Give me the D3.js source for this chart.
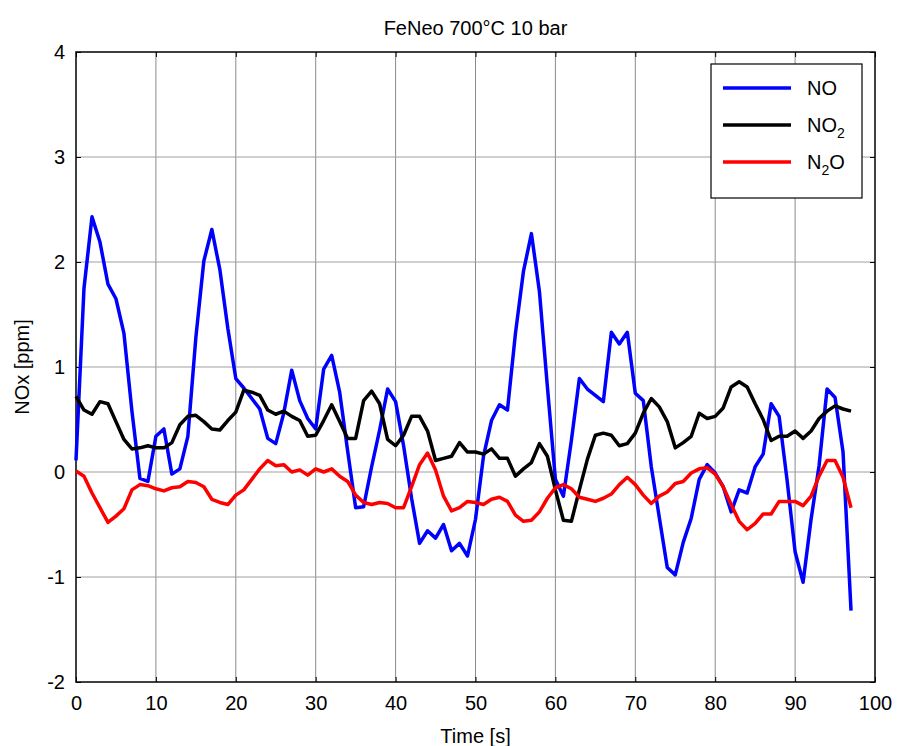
<!DOCTYPE html>
<html>
<head>
<meta charset="utf-8">
<script src="https://cdn.jsdelivr.net/npm/d3@7"></script>
<style>
  body { margin: 0; background: #fff; }
  text { font-family: "Liberation Sans", Arial, sans-serif; fill: #000; }
</style>
</head>
<body>
<svg id="chart" width="898" height="746"></svg>
<script>
// time in seconds, one sample per second
var time = d3.range(0, 98);

var no = [0.11, 1.75, 2.43, 2.19, 1.79, 1.65, 1.32, 0.58, -0.06, -0.09,
  0.34, 0.41, -0.02, 0.03, 0.34, 1.28, 2.01, 2.31, 1.93, 1.37,
  0.89, 0.80, 0.70, 0.60, 0.32, 0.27, 0.56, 0.97, 0.68, 0.51,
  0.41, 0.98, 1.11, 0.76, 0.20, -0.34, -0.33, 0.05, 0.40, 0.79,
  0.67, 0.25, -0.25, -0.68, -0.56, -0.63, -0.50, -0.75, -0.68, -0.80,
  -0.45, 0.15, 0.49, 0.64, 0.59, 1.32, 1.91, 2.27, 1.72, 0.81,
  -0.07, -0.23, 0.30, 0.89, 0.79, 0.73, 0.67, 1.33, 1.22, 1.33,
  0.75, 0.68, 0.05, -0.43, -0.91, -0.98, -0.67, -0.44, -0.07, 0.07,
  -0.01, -0.14, -0.38, -0.17, -0.20, 0.05, 0.17, 0.65, 0.53, -0.08,
  -0.76, -1.05, -0.45, 0.06, 0.79, 0.71, 0.19, -1.32];

var no2 = [0.72, 0.59, 0.55, 0.67, 0.65, 0.48, 0.31, 0.22, 0.23, 0.25,
  0.23, 0.23, 0.28, 0.45, 0.53, 0.54, 0.48, 0.41, 0.40, 0.49,
  0.57, 0.78, 0.76, 0.73, 0.59, 0.55, 0.58, 0.53, 0.49, 0.34,
  0.35, 0.49, 0.64, 0.48, 0.32, 0.32, 0.68, 0.77, 0.65, 0.31,
  0.25, 0.35, 0.53, 0.53, 0.39, 0.11, 0.13, 0.15, 0.28, 0.19,
  0.19, 0.17, 0.22, 0.13, 0.13, -0.04, 0.03, 0.09, 0.27, 0.15,
  -0.17, -0.46, -0.47, -0.17, 0.12, 0.35, 0.37, 0.35, 0.25, 0.27,
  0.37, 0.56, 0.70, 0.62, 0.48, 0.23, 0.28, 0.34, 0.56, 0.51,
  0.53, 0.61, 0.81, 0.86, 0.81, 0.65, 0.50, 0.30, 0.34, 0.34,
  0.39, 0.32, 0.39, 0.51, 0.58, 0.63, 0.60, 0.58];

var n2o = [0.01, -0.04, -0.20, -0.34, -0.48, -0.42, -0.35, -0.17, -0.12, -0.13,
  -0.16, -0.18, -0.15, -0.14, -0.09, -0.10, -0.14, -0.26, -0.29, -0.31,
  -0.22, -0.17, -0.07, 0.03, 0.11, 0.06, 0.07, 0.00, 0.02, -0.03,
  0.03, 0.00, 0.03, -0.04, -0.09, -0.22, -0.29, -0.31, -0.29, -0.30,
  -0.34, -0.34, -0.14, 0.07, 0.18, 0.02, -0.23, -0.37, -0.34, -0.28,
  -0.29, -0.31, -0.26, -0.24, -0.28, -0.41, -0.47, -0.46, -0.38, -0.25,
  -0.15, -0.12, -0.16, -0.24, -0.26, -0.28, -0.25, -0.21, -0.12, -0.05,
  -0.12, -0.22, -0.30, -0.23, -0.19, -0.11, -0.09, -0.01, 0.03, 0.04,
  -0.02, -0.14, -0.31, -0.47, -0.55, -0.49, -0.40, -0.40, -0.28, -0.28,
  -0.28, -0.32, -0.23, -0.04, 0.11, 0.11, -0.05, -0.34];

var xTicks = [0, 10, 20, 30, 40, 50, 60, 70, 80, 90, 100];
var yTicks = [-2, -1, 0, 1, 2, 3, 4];

var series = [
  {name: "NO", sub: null, after: "", values: no, color: "#0000ff"},
  {name: "NO", sub: "2", after: "", values: no2, color: "#000000"},
  {name: "N", sub: "2", after: "O", values: n2o, color: "#ff0000"}
];

// plot box in pixels (names avoid window.top)
var plotL = 76, plotR = 875, plotT = 52, plotB = 682;

var svg = d3.select("#chart");

var x = d3.scaleLinear().domain([0, 100]).range([plotL, plotR]);
var y = d3.scaleLinear().domain([-2, 4]).range([plotB, plotT]);

// grid
var grid = svg.append("g").attr("class", "grid");
grid.selectAll("line.v")
  .data(xTicks.slice(1, -1))
  .enter().append("line")
  .attr("x1", function(d){ return x(d); })
  .attr("x2", function(d){ return x(d); })
  .attr("y1", plotT).attr("y2", plotB)
  .attr("stroke", "#8a8a8a").attr("stroke-width", 1);
grid.selectAll("line.h")
  .data(yTicks.slice(1, -1))
  .enter().append("line")
  .attr("y1", function(d){ return y(d); })
  .attr("y2", function(d){ return y(d); })
  .attr("x1", plotL).attr("x2", plotR)
  .attr("stroke", "#a0a0a0").attr("stroke-width", 1);

// axes, ticks pointing inward; plain hyphen for negatives like the original
var plain = function(d){ return String(d); };
var xAxis = d3.axisBottom(x).tickValues(xTicks).tickFormat(plain).tickSizeInner(-5).tickSizeOuter(0).tickPadding(14);
var xAxisTop = d3.axisTop(x).tickValues(xTicks).tickSizeInner(-5).tickSizeOuter(0).tickFormat("");
var yAxis = d3.axisLeft(y).tickValues(yTicks).tickFormat(plain).tickSizeInner(-5).tickSizeOuter(0).tickPadding(11);
var yAxisRight = d3.axisRight(y).tickValues(yTicks).tickSizeInner(-5).tickSizeOuter(0).tickFormat("");

function styleAxis(g) {
  g.select(".domain").remove();
  g.selectAll("line").attr("stroke", "#000");
  g.selectAll("text").style("font-size", "20px").attr("fill", "#000");
}

svg.append("g").attr("transform", "translate(0," + plotB + ")").call(xAxis).call(styleAxis);
svg.append("g").attr("transform", "translate(0," + plotT + ")").call(xAxisTop).call(styleAxis);
svg.append("g").attr("transform", "translate(" + plotL + ",0)").call(yAxis).call(styleAxis);
svg.append("g").attr("transform", "translate(" + plotR + ",0)").call(yAxisRight).call(styleAxis);

svg.append("rect")
  .attr("x", plotL).attr("y", plotT)
  .attr("width", plotR - plotL).attr("height", plotB - plotT)
  .attr("fill", "none").attr("stroke", "#000").attr("stroke-width", 1.5);

// lines
var line = d3.line()
  .x(function(d, i){ return x(time[i]); })
  .y(function(d){ return y(d); });

svg.selectAll("path.series")
  .data(series)
  .enter().append("path")
  .attr("class", "series")
  .attr("d", function(d){ return line(d.values); })
  .attr("fill", "none")
  .attr("stroke", function(d){ return d.color; })
  .attr("stroke-width", 3.5)
  .attr("stroke-linejoin", "round");

// title and labels
svg.append("text")
  .attr("x", (plotL + plotR) / 2).attr("y", 35)
  .attr("text-anchor", "middle")
  .style("font-size", "20px")
  .text("FeNeo 700°C 10 bar");

svg.append("text")
  .attr("x", (plotL + plotR) / 2).attr("y", 743)
  .attr("text-anchor", "middle")
  .style("font-size", "20px")
  .text("Time [s]");

svg.append("text")
  .attr("transform", "translate(29," + ((plotT + plotB) / 2) + ") rotate(-90)")
  .attr("text-anchor", "middle")
  .style("font-size", "20px")
  .text("NOx [ppm]");

// legend
var legend = svg.append("g").attr("transform", "translate(711,64)");
legend.append("rect")
  .attr("width", 151).attr("height", 134)
  .attr("fill", "#fff").attr("stroke", "#000").attr("stroke-width", 1.2);

var entry = legend.selectAll("g.entry")
  .data(series)
  .enter().append("g")
  .attr("class", "entry")
  .attr("transform", function(d, i){ return "translate(0," + (24 + i * 37) + ")"; });

entry.append("line")
  .attr("x1", 12).attr("x2", 80)
  .attr("stroke", function(d){ return d.color; })
  .attr("stroke-width", 3.5);

var label = entry.append("text")
  .attr("x", 96).attr("y", 7)
  .style("font-size", "20px");
label.append("tspan").text(function(d){ return d.name; });
label.filter(function(d){ return d.sub; })
  .append("tspan").attr("dy", 6).style("font-size", "14px")
  .text(function(d){ return d.sub; });
label.filter(function(d){ return d.after; })
  .append("tspan").attr("dy", -6)
  .text(function(d){ return d.after; });
</script>
</body>
</html>
